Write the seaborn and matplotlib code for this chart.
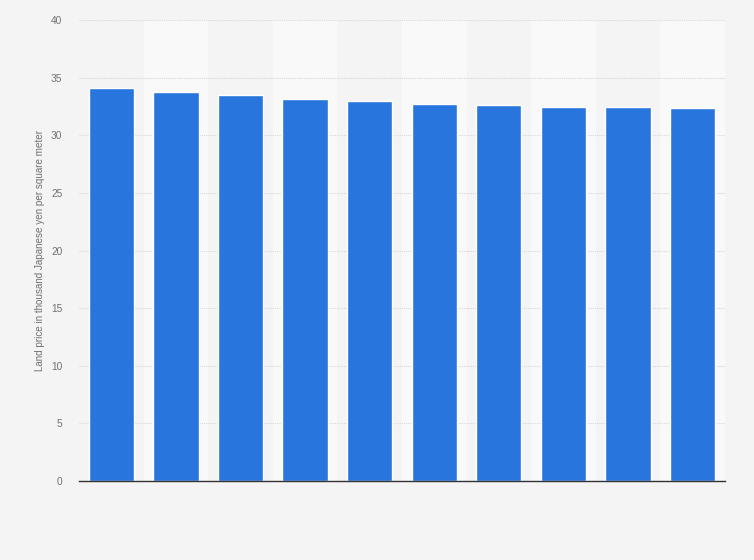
import numpy as np
import pandas as pd
import matplotlib
matplotlib.use("Agg")
import matplotlib.pyplot as plt
from matplotlib import font_manager
import seaborn as sns

# values (no category labels shown)
categories = ["c1", "c2", "c3", "c4", "c5", "c6", "c7", "c8", "c9", "c10"]
prices = [34.1, 33.8, 33.5, 33.2, 32.95, 32.7, 32.6, 32.45, 32.5, 32.35]
y_ticks = [0, 5, 10, 15, 20, 25, 30, 35, 40]

df = pd.DataFrame({"category": categories, "price": prices})

sns.set_style("white")
plt.rcParams["font.family"] = ["Liberation Sans", "DejaVu Sans"]

# pick the regular-width Liberation Sans (not Narrow)
font_path = None
for f in font_manager.fontManager.ttflist:
    if f.name == "Liberation Sans" and "Narrow" not in f.fname and f.style == "normal" \
            and f.weight in (400, "normal", "regular"):
        font_path = f.fname
        break

def fp(size):
    if font_path:
        return font_manager.FontProperties(fname=font_path, size=size)
    return font_manager.FontProperties(family="Liberation Sans", size=size)

fig = plt.figure(figsize=(7.54, 5.6), dpi=100)
fig.patch.set_facecolor("#f4f4f4")
ax = fig.add_axes([0.1048, 0.141, 0.8567, 0.823])
ax.set_facecolor("#f4f4f4")

# alternating column bands
for i in range(len(categories)):
    if i % 2 == 1:
        ax.axvspan(i - 0.5, i + 0.5, color="#f9f9f9", zorder=0, lw=0)

sns.barplot(data=df, x="category", y="price", color="#2876dd", saturation=1,
            width=0.7, ax=ax, zorder=3)

ax.set_xlim(-0.5, len(categories) - 0.5)
ax.set_ylim(0, 40)
ax.set_yticks(y_ticks)
ax.set_yticklabels([str(t) for t in y_ticks], fontproperties=fp(7.3), color="#707070")
ax.set_xticks([])
ax.set_xlabel("")
ax.set_ylabel("Land price in thousand Japanese yen per square meter",
              fontproperties=fp(7.1), color="#707070", labelpad=4)
ax.tick_params(axis="y", length=0, pad=12)
ax.yaxis.grid(True, color="#d8d8d8", linestyle=(0, (1, 1)), linewidth=0.8, zorder=1)
ax.set_axisbelow(True)
for s in ["top", "right", "left"]:
    ax.spines[s].set_visible(False)
ax.spines["bottom"].set_color("#333333")
ax.spines["bottom"].set_linewidth(1)
ax.spines["bottom"].set_zorder(5)

fig.savefig("out.png", dpi=100, facecolor=fig.get_facecolor())
